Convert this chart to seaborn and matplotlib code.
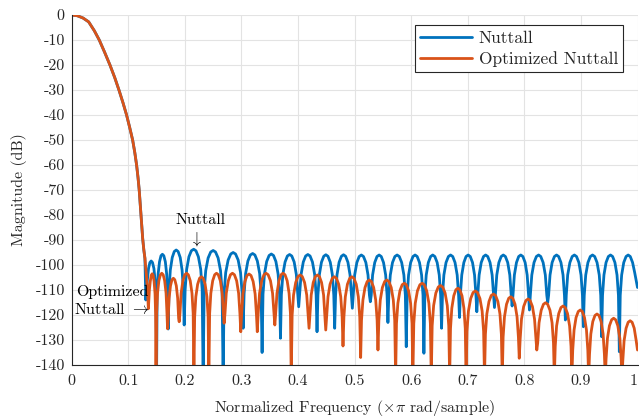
import matplotlib
matplotlib.use("Agg")
import matplotlib.pyplot as plt
import pandas as pd
import seaborn as sns

# ---------------- data ----------------
SERIES = ["Nuttall", "Optimized Nuttall"]
COLORS = ["#0072BD", "#D95319"]

# shared main lobe (both windows overlap here)
MAIN_F = [0.0, 0.01, 0.02, 0.03, 0.04, 0.0487, 0.058, 0.0676, 0.0760, 0.0835,
          0.0905, 0.0970, 0.1025, 0.1077, 0.1115, 0.1147, 0.1172, 0.1193,
          0.1215, 0.1236, 0.1255, 0.1275, 0.1294]
MAIN_DB = [0.0, -0.3, -1.2, -2.75, -6.3, -10.0, -14.8, -20.0, -25.0, -30.0,
           -35.0, -40.0, -45.0, -50.0, -55.0, -60.0, -65.0, -70.0,
           -77.0, -84.0, -89.5, -94.0, -97.3]

# Nuttall side lobes
NUTTALL_F = [
    0.1310, 0.1320, 0.1335, 0.1358, 0.1382, 0.1405, 0.1428, 0.1453, 0.1475, 0.1491,
    0.1500, 0.1510, 0.1527, 0.1552, 0.1578, 0.1603, 0.1628, 0.1655, 0.1679, 0.1696,
    0.1706, 0.1720, 0.1743, 0.1777, 0.1813, 0.1847, 0.1881, 0.1918, 0.1951, 0.1974,
    0.1988, 0.2005, 0.2032, 0.2072, 0.2115, 0.2156, 0.2196, 0.2239, 0.2280, 0.2306,
    0.2323, 0.2341, 0.2369, 0.2411, 0.2457, 0.2500, 0.2542, 0.2588, 0.2630, 0.2658,
    0.2676, 0.2694, 0.2722, 0.2765, 0.2811, 0.2853, 0.2896, 0.2942, 0.2984, 0.3012,
    0.3030, 0.3047, 0.3074, 0.3114, 0.3157, 0.3198, 0.3238, 0.3281, 0.3322, 0.3348,
    0.3365, 0.3381, 0.3407, 0.3446, 0.3489, 0.3528, 0.3567, 0.3609, 0.3648, 0.3674,
    0.3690, 0.3706, 0.3732, 0.3771, 0.3812, 0.3851, 0.3890, 0.3932, 0.3970, 0.3996,
    0.4012, 0.4028, 0.4054, 0.4093, 0.4135, 0.4174, 0.4213, 0.4255, 0.4294, 0.4320,
    0.4336, 0.4352, 0.4377, 0.4414, 0.4455, 0.4492, 0.4529, 0.4570, 0.4607, 0.4632,
    0.4648, 0.4664, 0.4689, 0.4726, 0.4767, 0.4804, 0.4841, 0.4882, 0.4919, 0.4944,
    0.4960, 0.4976, 0.5001, 0.5040, 0.5081, 0.5119, 0.5157, 0.5199, 0.5237, 0.5262,
    0.5278, 0.5294, 0.5318, 0.5356, 0.5396, 0.5434, 0.5471, 0.5511, 0.5549, 0.5574,
    0.5589, 0.5605, 0.5631, 0.5670, 0.5712, 0.5751, 0.5790, 0.5832, 0.5871, 0.5897,
    0.5913, 0.5929, 0.5954, 0.5991, 0.6032, 0.6069, 0.6106, 0.6147, 0.6184, 0.6209,
    0.6225, 0.6241, 0.6266, 0.6303, 0.6344, 0.6381, 0.6418, 0.6459, 0.6496, 0.6521,
    0.6537, 0.6553, 0.6578, 0.6616, 0.6658, 0.6696, 0.6734, 0.6775, 0.6813, 0.6838,
    0.6854, 0.6869, 0.6894, 0.6931, 0.6970, 0.7007, 0.7044, 0.7084, 0.7120, 0.7145,
    0.7160, 0.7176, 0.7201, 0.7238, 0.7279, 0.7316, 0.7353, 0.7394, 0.7431, 0.7456,
    0.7472, 0.7488, 0.7513, 0.7550, 0.7591, 0.7628, 0.7665, 0.7706, 0.7743, 0.7768,
    0.7784, 0.7799, 0.7824, 0.7861, 0.7900, 0.7937, 0.7974, 0.8014, 0.8050, 0.8075,
    0.8090, 0.8106, 0.8132, 0.8171, 0.8213, 0.8252, 0.8290, 0.8332, 0.8371, 0.8397,
    0.8413, 0.8429, 0.8454, 0.8491, 0.8532, 0.8569, 0.8606, 0.8647, 0.8684, 0.8709,
    0.8725, 0.8741, 0.8766, 0.8805, 0.8846, 0.8884, 0.8922, 0.8964, 0.9002, 0.9027,
    0.9043, 0.9059, 0.9085, 0.9124, 0.9166, 0.9205, 0.9243, 0.9285, 0.9324, 0.9350,
    0.9366, 0.9382, 0.9407, 0.9444, 0.9485, 0.9523, 0.9560, 0.9601, 0.9638, 0.9663,
    0.9679, 0.9695, 0.9720, 0.9757, 0.9798, 0.9835, 0.9872, 0.9913, 0.9950, 0.9975, 1.0000]
NUTTALL_DB = [
    -114.0, -110.5, -106.4, -101.4, -99.0, -98.4, -99.0, -101.4, -106.4, -114.5,
    -145.0, -111.8, -103.7, -98.7, -96.3, -95.7, -96.3, -98.7, -103.7, -111.8,
    -125.6, -110.1, -102.0, -97.0, -94.6, -94.0, -94.6, -97.0, -102.0, -110.1,
    -124.0, -109.8, -101.7, -96.7, -94.3, -93.7, -94.3, -96.7, -101.7, -109.8,
    -145.0, -110.3, -102.2, -97.2, -94.8, -94.2, -94.8, -97.2, -102.2, -110.3,
    -145.0, -111.1, -103.0, -98.0, -95.6, -95.0, -95.6, -98.0, -103.0, -111.1,
    -125.3, -111.5, -103.4, -98.4, -96.0, -95.4, -96.0, -98.4, -103.4, -111.5,
    -135.0, -111.7, -103.6, -98.6, -96.2, -95.6, -96.2, -98.6, -103.6, -111.7,
    -129.3, -111.9, -103.8, -98.8, -96.4, -95.8, -96.4, -98.8, -103.8, -111.9,
    -116.7, -111.9, -103.8, -98.8, -96.4, -95.8, -96.4, -98.8, -103.8, -111.9,
    -126.7, -112.0, -103.9, -98.9, -96.5, -95.9, -96.5, -98.9, -103.9, -112.0,
    -125.3, -112.0, -103.9, -98.9, -96.5, -95.9, -96.5, -98.9, -103.9, -112.0,
    -117.3, -112.1, -104.0, -99.0, -96.6, -96.0, -96.6, -99.0, -104.0, -112.1,
    -114.7, -112.1, -104.0, -99.0, -96.6, -96.0, -96.6, -99.0, -104.0, -112.1,
    -123.0, -112.1, -104.0, -99.0, -96.6, -96.0, -96.6, -99.0, -104.0, -112.1,
    -132.7, -112.1, -104.0, -99.0, -96.6, -96.0, -96.6, -99.0, -104.0, -112.1,
    -135.3, -112.1, -104.0, -99.0, -96.6, -96.0, -96.6, -99.0, -104.0, -112.1,
    -125.3, -112.1, -104.0, -99.0, -96.6, -96.0, -96.6, -99.0, -104.0, -112.1,
    -121.0, -112.1, -104.0, -99.0, -96.6, -96.0, -96.6, -99.0, -104.0, -112.1,
    -118.7, -112.1, -104.0, -99.0, -96.6, -96.0, -96.6, -99.0, -104.0, -112.1,
    -117.0, -112.1, -104.0, -99.0, -96.6, -96.0, -96.6, -99.0, -104.0, -112.1,
    -116.4, -112.1, -104.0, -99.0, -96.6, -96.0, -96.6, -99.0, -104.0, -112.1,
    -118.0, -112.1, -104.0, -99.0, -96.6, -96.0, -96.6, -99.0, -104.0, -112.1,
    -115.0, -112.1, -104.0, -99.0, -96.6, -96.0, -96.6, -99.0, -104.0, -112.1,
    -122.0, -112.1, -104.0, -99.0, -96.6, -96.0, -96.6, -99.0, -104.0, -112.1,
    -124.7, -112.1, -104.0, -99.0, -96.6, -96.0, -96.6, -99.0, -104.0, -112.1,
    -128.7, -112.1, -104.0, -99.0, -96.6, -96.0, -96.6, -99.0, -104.0, -112.1,
    -134.7, -112.1, -104.0, -99.0, -96.6, -96.0, -96.6, -99.0, -103.0, -106.0, -109.0]

# Optimized Nuttall side lobes
OPT_F = [
    0.1320, 0.1340,
    0.1355, 0.1362, 0.1373, 0.1389, 0.1406, 0.1423, 0.1439, 0.1456, 0.1473, 0.1483,
    0.1490, 0.1500, 0.1517, 0.1541, 0.1568, 0.1592, 0.1617, 0.1643, 0.1668, 0.1684,
    0.1694, 0.1704, 0.1721, 0.1746, 0.1772, 0.1797, 0.1822, 0.1849, 0.1873, 0.1890,
    0.1900, 0.1913, 0.1934, 0.1965, 0.1999, 0.2030, 0.2061, 0.2095, 0.2126, 0.2147,
    0.2160, 0.2173, 0.2194, 0.2226, 0.2260, 0.2292, 0.2324, 0.2358, 0.2390, 0.2411,
    0.2424, 0.2438, 0.2459, 0.2492, 0.2527, 0.2559, 0.2591, 0.2627, 0.2659, 0.2681,
    0.2694, 0.2709, 0.2732, 0.2768, 0.2806, 0.2841, 0.2876, 0.2915, 0.2950, 0.2973,
    0.2988, 0.3003, 0.3026, 0.3061, 0.3099, 0.3134, 0.3169, 0.3207, 0.3242, 0.3265,
    0.3280, 0.3296, 0.3320, 0.3358, 0.3398, 0.3435, 0.3472, 0.3513, 0.3550, 0.3575,
    0.3590, 0.3605, 0.3628, 0.3663, 0.3700, 0.3735, 0.3770, 0.3808, 0.3842, 0.3866,
    0.3880, 0.3896, 0.3921, 0.3959, 0.4000, 0.4038, 0.4075, 0.4116, 0.4154, 0.4179,
    0.4195, 0.4210, 0.4233, 0.4269, 0.4307, 0.4343, 0.4378, 0.4416, 0.4452, 0.4475,
    0.4490, 0.4505, 0.4530, 0.4566, 0.4606, 0.4643, 0.4679, 0.4719, 0.4755, 0.4780,
    0.4795, 0.4811, 0.4836, 0.4873, 0.4914, 0.4951, 0.4988, 0.5029, 0.5066, 0.5091,
    0.5107, 0.5122, 0.5147, 0.5184, 0.5223, 0.5260, 0.5297, 0.5337, 0.5373, 0.5398,
    0.5413, 0.5429, 0.5454, 0.5491, 0.5532, 0.5569, 0.5606, 0.5647, 0.5684, 0.5709,
    0.5725, 0.5740, 0.5765, 0.5801, 0.5841, 0.5878, 0.5914, 0.5954, 0.5990, 0.6015,
    0.6030, 0.6046, 0.6072, 0.6111, 0.6154, 0.6193, 0.6232, 0.6274, 0.6313, 0.6339,
    0.6355, 0.6371, 0.6397, 0.6436, 0.6479, 0.6518, 0.6557, 0.6599, 0.6638, 0.6664,
    0.6680, 0.6695, 0.6718, 0.6753, 0.6790, 0.6825, 0.6860, 0.6898, 0.6932, 0.6956,
    0.6970, 0.6986, 0.7012, 0.7052, 0.7094, 0.7133, 0.7172, 0.7215, 0.7254, 0.7280,
    0.7296, 0.7312, 0.7337, 0.7375, 0.7415, 0.7453, 0.7491, 0.7532, 0.7569, 0.7594,
    0.7610, 0.7625, 0.7649, 0.7685, 0.7724, 0.7760, 0.7796, 0.7835, 0.7871, 0.7895,
    0.7910, 0.7926, 0.7950, 0.7988, 0.8028, 0.8065, 0.8102, 0.8143, 0.8180, 0.8205,
    0.8220, 0.8236, 0.8260, 0.8298, 0.8338, 0.8375, 0.8412, 0.8453, 0.8490, 0.8515,
    0.8530, 0.8546, 0.8570, 0.8608, 0.8648, 0.8685, 0.8722, 0.8763, 0.8800, 0.8825,
    0.8840, 0.8855, 0.8879, 0.8914, 0.8953, 0.8989, 0.9024, 0.9063, 0.9098, 0.9122,
    0.9137, 0.9152, 0.9175, 0.9210, 0.9248, 0.9284, 0.9319, 0.9357, 0.9392, 0.9415,
    0.9430, 0.9445, 0.9469, 0.9504, 0.9543, 0.9578, 0.9614, 0.9652, 0.9688, 0.9711,
    0.9726, 0.9740, 0.9763, 0.9798, 0.9835, 0.9870, 0.9905, 0.9942, 0.9977, 1.0000]
OPT_DB = [
    -104.0, -110.0,
    -117.5, -114.5, -110.0, -106.5, -104.1, -103.5, -104.1, -106.5, -111.5, -119.6,
    -145.0, -119.4, -111.3, -106.3, -103.9, -103.3, -103.9, -106.3, -111.3, -119.4,
    -125.5, -121.4, -113.3, -108.3, -105.9, -105.3, -105.9, -108.3, -113.3, -121.4,
    -122.7, -119.4, -111.3, -106.3, -103.9, -103.3, -103.9, -106.3, -111.3, -119.4,
    -145.0, -120.8, -112.7, -107.7, -105.3, -104.7, -105.3, -107.7, -112.7, -120.8,
    -145.0, -119.4, -111.3, -106.3, -103.9, -103.3, -103.9, -106.3, -111.3, -119.4,
    -123.3, -119.4, -111.3, -106.3, -103.9, -103.3, -103.9, -106.3, -111.3, -119.4,
    -126.7, -119.7, -111.6, -106.6, -104.2, -103.6, -104.2, -106.6, -111.6, -119.7,
    -126.7, -119.4, -111.3, -106.3, -103.9, -103.3, -103.9, -106.3, -111.3, -119.4,
    -124.0, -119.4, -111.3, -106.3, -103.9, -103.3, -103.9, -106.3, -111.3, -119.4,
    -145.0, -120.1, -112.0, -107.0, -104.6, -104.0, -104.6, -107.0, -112.0, -120.1,
    -125.3, -120.1, -112.0, -107.0, -104.6, -104.0, -104.6, -107.0, -112.0, -120.1,
    -126.0, -120.8, -112.7, -107.7, -105.3, -104.7, -105.3, -107.7, -112.7, -120.8,
    -132.4, -120.8, -112.7, -107.7, -105.3, -104.7, -105.3, -107.7, -112.7, -120.8,
    -137.0, -122.1, -114.0, -109.0, -106.6, -106.0, -106.6, -109.0, -114.0, -122.1,
    -134.0, -122.1, -114.0, -109.0, -106.6, -106.0, -106.6, -109.0, -114.0, -122.1,
    -145.0, -123.4, -115.3, -110.3, -107.9, -107.3, -107.9, -110.3, -115.3, -123.4,
    -145.0, -123.4, -115.3, -110.3, -107.9, -107.3, -107.9, -110.3, -115.3, -123.4,
    -145.0, -124.3, -116.2, -111.2, -108.8, -108.2, -108.8, -111.2, -116.2, -124.3,
    -145.0, -125.4, -117.3, -112.3, -109.9, -109.3, -109.9, -112.3, -117.3, -125.4,
    -145.0, -126.5, -118.4, -113.4, -111.0, -110.4, -111.0, -113.4, -118.4, -126.5,
    -145.0, -127.7, -119.6, -114.6, -112.2, -111.6, -112.2, -114.6, -119.6, -127.7,
    -145.0, -128.8, -120.7, -115.7, -113.3, -112.7, -113.3, -115.7, -120.7, -128.8,
    -137.3, -129.7, -121.6, -116.6, -114.2, -113.6, -114.2, -116.6, -121.6, -129.7,
    -134.0, -131.2, -123.1, -118.1, -115.7, -115.1, -115.7, -118.1, -123.1, -131.2,
    -145.0, -132.5, -124.4, -119.4, -117.0, -116.4, -117.0, -119.4, -124.4, -132.5,
    -145.0, -134.1, -126.0, -121.0, -118.6, -118.0, -118.6, -121.0, -126.0, -134.1,
    -145.0, -135.7, -127.6, -122.6, -120.2, -119.6, -120.2, -122.6, -127.6, -135.7,
    -145.0, -137.4, -129.3, -124.3, -121.9, -121.3, -121.9, -124.3, -129.3, -137.4,
    -145.0, -138.4, -130.3, -125.3, -122.9, -122.3, -122.9, -125.3, -130.3, -134.0]

X_TICKS = [0.0, 0.1, 0.2, 0.3, 0.4, 0.5, 0.6, 0.7, 0.8, 0.9, 1.0]
X_TICK_LABELS = ["0", "0.1", "0.2", "0.3", "0.4", "0.5", "0.6", "0.7", "0.8", "0.9", "1"]
Y_TICKS = [0, -10, -20, -30, -40, -50, -60, -70, -80, -90, -100, -110, -120, -130, -140]
Y_TICK_LABELS = ["0", "-10", "-20", "-30", "-40", "-50", "-60", "-70", "-80", "-90",
                 "-100", "-110", "-120", "-130", "-140"]

# ---------------- style ----------------
sns.set_style("white")
plt.rcParams["font.family"] = ["cmr10", "DejaVu Serif"]
plt.rcParams["mathtext.fontset"] = "cm"
plt.rcParams["axes.unicode_minus"] = False
plt.rcParams["axes.formatter.use_mathtext"] = True

FS = 11.5
AX_COLOR = "#262626"

df = pd.concat([
    pd.DataFrame({"f": MAIN_F + NUTTALL_F, "db": MAIN_DB + NUTTALL_DB, "series": SERIES[0]}),
    pd.DataFrame({"f": MAIN_F + OPT_F, "db": MAIN_DB + OPT_DB, "series": SERIES[1]}),
], ignore_index=True)

fig = plt.figure(figsize=(6.39, 4.18), dpi=100)
ax = fig.add_axes([71.7 / 639, 1 - 365 / 418, (637.5 - 71.7) / 639, (365 - 15) / 418])

sns.lineplot(data=df, x="f", y="db", hue="series", hue_order=SERIES, palette=COLORS,
             estimator=None, sort=False, linewidth=2.0, ax=ax)
for ln in ax.get_lines():
    ln.set_solid_joinstyle("round")

ax.set_xlim(0, 1)
ax.set_ylim(-140, 0)
ax.set_xticks(X_TICKS)
ax.set_xticklabels(X_TICK_LABELS)
ax.set_yticks(Y_TICKS)
ax.set_yticklabels(Y_TICK_LABELS)
ax.get_xticklabels()[-1].set_horizontalalignment("right")

ax.grid(True, color="#E3E3E3", linewidth=0.8)
ax.set_axisbelow(True)
for s in ["top", "right"]:
    ax.spines[s].set_visible(False)
for s in ["left", "bottom"]:
    ax.spines[s].set_color(AX_COLOR)
    ax.spines[s].set_linewidth(0.8)
ax.tick_params(direction="in", length=4.5, width=0.7, color=AX_COLOR,
               labelcolor=AX_COLOR, labelsize=FS)
ax.tick_params(axis="x", pad=7)
ax.tick_params(axis="y", pad=5)

ax.set_xlabel(r"Normalized Frequency ($\times\pi$ rad/sample)", fontsize=FS, color=AX_COLOR, labelpad=7)
ax.set_ylabel("Magnitude (dB)", fontsize=FS, color=AX_COLOR, labelpad=6)

handles, labels = ax.get_legend_handles_labels()
leg = ax.legend(handles, labels, loc="upper right", bbox_to_anchor=(0.975, 0.971),
                borderaxespad=0, fancybox=False, framealpha=1, edgecolor=AX_COLOR,
                fontsize=12.5, handlelength=3.0, handletextpad=0.4, borderpad=0.3,
                labelspacing=0.3)
leg.get_frame().set_linewidth(0.8)

ax.text(0.2283, -82.0, "Nuttall", ha="center", va="center", fontsize=FS, color="black")
ax.text(0.2195, -89.5, r"$\downarrow$", ha="center", va="center", fontsize=FS, color="black")
ax.text(0.0712, -110.7, "Optimized", ha="center", va="center", fontsize=FS, color="black")
ax.text(0.0712, -118.0, r"Nuttall $\rightarrow$", ha="center", va="center", fontsize=FS, color="black")

fig.savefig("out.png", dpi=100)
